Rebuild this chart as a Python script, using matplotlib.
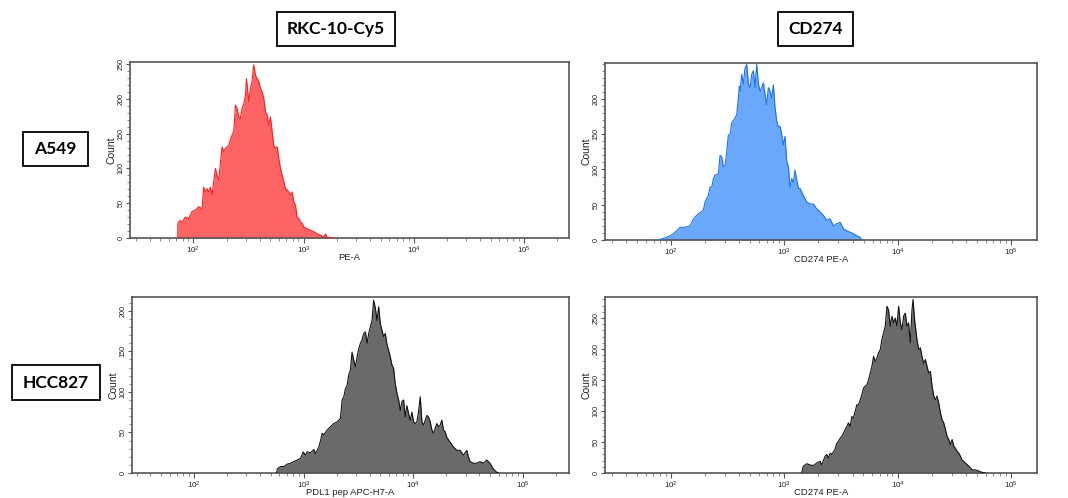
import numpy as np
import matplotlib
matplotlib.use("Agg")
import matplotlib.pyplot as plt
from matplotlib.patches import Rectangle
from matplotlib.ticker import LogLocator, MultipleLocator, NullFormatter, FixedLocator

plt.rcParams['font.family'] = ['Liberation Sans', 'DejaVu Sans']
plt.rcParams['mathtext.fontset'] = 'custom'
plt.rcParams['mathtext.rm'] = 'Liberation Sans'
plt.rcParams['mathtext.it'] = 'Liberation Sans:italic'
plt.rcParams['mathtext.bf'] = 'Liberation Sans:bold'

# ---------------- data (log10 intensity, count) ----------------
a549_rkc_log = [1.858, 1.860, 1.876, 1.897, 1.927, 1.958, 1.988, 2.018, 2.048, 2.079, 2.094, 2.109,
                2.124, 2.139, 2.155, 2.170, 2.200, 2.215, 2.230, 2.261, 2.276, 2.291, 2.321, 2.336,
                2.352, 2.367, 2.382, 2.397, 2.412, 2.427, 2.442, 2.458, 2.473, 2.482, 2.494, 2.503,
                2.518, 2.533, 2.548, 2.564, 2.579, 2.594, 2.609, 2.624, 2.639, 2.655, 2.670, 2.685,
                2.700, 2.715, 2.730, 2.745, 2.761, 2.776, 2.791, 2.806, 2.821, 2.836, 2.852, 2.867,
                2.882, 2.897, 2.912, 2.927, 2.942, 2.958, 2.973, 2.988, 3.003, 3.033, 3.064, 3.094,
                3.124, 3.155, 3.185, 3.200, 3.215, 3.245, 3.276]
a549_rkc_count = [0, 21, 25, 23, 30, 28, 38, 40, 45, 42, 73, 66,
                  71, 66, 73, 62, 100, 90, 83, 131, 124, 129, 133, 141,
                  148, 153, 191, 186, 174, 172, 186, 193, 205, 229, 210, 196,
                  215, 225, 249, 234, 229, 225, 215, 210, 201, 181, 177, 162,
                  174, 153, 133, 129, 131, 114, 100, 90, 81, 71, 69, 66,
                  62, 66, 52, 47, 30, 28, 23, 21, 16, 13, 11, 9,
                  6, 4, 1.5, 6, 0, 1, 0]

a549_cd274_log = [1.888, 1.918, 1.962, 1.991, 2.021, 2.050, 2.079, 2.124, 2.168, 2.197, 2.227, 2.256,
                  2.285, 2.300, 2.315, 2.329, 2.344, 2.359, 2.374, 2.388, 2.418, 2.432, 2.447, 2.462,
                  2.477, 2.491, 2.506, 2.521, 2.535, 2.565, 2.580, 2.594, 2.603, 2.609, 2.624, 2.638,
                  2.653, 2.668, 2.683, 2.697, 2.712, 2.727, 2.741, 2.756, 2.771, 2.786, 2.800, 2.815,
                  2.830, 2.844, 2.859, 2.874, 2.889, 2.903, 2.918, 2.933, 2.947, 2.962, 2.977, 2.991,
                  3.006, 3.021, 3.036, 3.050, 3.065, 3.080, 3.094, 3.109, 3.124, 3.139, 3.168, 3.197,
                  3.227, 3.256, 3.286, 3.315, 3.344, 3.374, 3.403, 3.433, 3.462, 3.492, 3.521, 3.550,
                  3.580, 3.609, 3.639, 3.668, 3.683]
a549_cd274_count = [0, 1.5, 4, 6, 9, 13, 18, 18, 20, 30, 35, 39,
                    42, 54, 59, 63, 75, 75, 87, 92, 94, 120, 118, 104,
                    106, 125, 149, 149, 166, 173, 178, 201, 218, 211, 235, 221,
                    244, 249, 221, 216, 235, 240, 216, 249, 221, 211, 216, 223,
                    206, 192, 216, 211, 201, 220, 187, 168, 161, 161, 149, 135,
                    147, 111, 104, 75, 87, 82, 99, 85, 73, 73, 63, 54,
                    51, 51, 44, 40, 35, 28, 30, 20, 23, 25, 16, 13,
                    11, 9, 6, 4, 0]

hcc_rkc_log = [2.755, 2.761, 2.791, 2.821, 2.852, 2.882, 2.912, 2.942, 2.973, 2.997, 3.018, 3.033,
               3.064, 3.094, 3.109, 3.139, 3.155, 3.170, 3.185, 3.215, 3.245, 3.276, 3.306, 3.336,
               3.352, 3.367, 3.382, 3.397, 3.412, 3.427, 3.442, 3.458, 3.473, 3.488, 3.503, 3.518,
               3.533, 3.548, 3.564, 3.579, 3.594, 3.609, 3.624, 3.639, 3.655, 3.670, 3.685, 3.700,
               3.715, 3.730, 3.745, 3.761, 3.776, 3.791, 3.806, 3.821, 3.836, 3.852, 3.867, 3.882,
               3.897, 3.912, 3.927, 3.942, 3.958, 3.973, 3.988, 4.003, 4.018, 4.033, 4.048, 4.064,
               4.079, 4.094, 4.109, 4.124, 4.139, 4.155, 4.170, 4.185, 4.200, 4.215, 4.230, 4.245,
               4.261, 4.276, 4.291, 4.306, 4.336, 4.367, 4.397, 4.427, 4.458, 4.488, 4.503, 4.518,
               4.548, 4.579, 4.609, 4.639, 4.670, 4.700, 4.730, 4.761, 4.776]
hcc_rkc_count = [0, 5, 8, 8, 11, 12, 14, 16, 18, 26, 22, 26,
                 25, 29, 24, 32, 40, 49, 47, 53, 57, 61, 63, 67,
                 90, 94, 104, 108, 121, 127, 149, 139, 131, 143, 153, 160,
                 164, 172, 174, 160, 172, 180, 188, 213, 203, 188, 205, 184,
                 176, 168, 172, 158, 151, 143, 133, 129, 110, 98, 90, 77,
                 88, 90, 69, 83, 73, 65, 75, 63, 61, 63, 75, 94,
                 63, 59, 65, 71, 69, 63, 53, 49, 55, 61, 57, 59,
                 65, 53, 51, 44, 38, 32, 28, 28, 22, 28, 20, 14,
                 12, 12, 14, 12, 16, 12, 5, 1, 0]

hcc_cd274_log = [3.153, 3.168, 3.198, 3.227, 3.257, 3.286, 3.316, 3.330, 3.360, 3.375, 3.389, 3.404,
                 3.419, 3.448, 3.463, 3.478, 3.493, 3.507, 3.522, 3.537, 3.552, 3.566, 3.581, 3.596,
                 3.611, 3.625, 3.640, 3.655, 3.670, 3.684, 3.699, 3.714, 3.729, 3.743, 3.758, 3.773,
                 3.788, 3.802, 3.817, 3.832, 3.847, 3.861, 3.876, 3.891, 3.906, 3.920, 3.935, 3.950,
                 3.965, 3.979, 3.994, 4.009, 4.024, 4.038, 4.053, 4.068, 4.083, 4.097, 4.112, 4.127,
                 4.136, 4.150, 4.171, 4.186, 4.201, 4.215, 4.230, 4.245, 4.260, 4.274, 4.289, 4.304,
                 4.319, 4.333, 4.348, 4.363, 4.378, 4.392, 4.407, 4.422, 4.437, 4.451, 4.466, 4.481,
                 4.496, 4.510, 4.525, 4.540, 4.555, 4.569, 4.599, 4.628, 4.658, 4.687, 4.717, 4.746,
                 4.776]
hcc_cd274_count = [0, 11, 15, 13, 12, 16, 19, 13, 27, 30, 24, 32,
                   30, 38, 48, 51, 56, 59, 64, 70, 75, 81, 75, 91,
                   89, 99, 110, 110, 118, 126, 137, 140, 142, 150, 161, 172,
                   188, 180, 185, 194, 199, 215, 226, 237, 269, 263, 237, 253,
                   242, 250, 237, 269, 242, 231, 253, 258, 237, 242, 210, 263,
                   280, 247, 215, 199, 202, 188, 177, 183, 172, 161, 164, 140,
                   124, 118, 124, 113, 97, 86, 81, 70, 59, 54, 46, 54,
                   43, 40, 35, 32, 27, 21, 16, 11, 5, 5, 3, 1,
                   0]

row_labels = ["A549", "HCC827"]
col_labels = ["RKC-10-Cy5", "CD274"]
x_labels = ["PE-A", "CD274 PE-A", "PDL1 pep APC-H7-A", "CD274 PE-A"]
y_label = "Count"

# ---------------- layout / styling ----------------
W, H = 1068, 498
fig = plt.figure(figsize=(W / 100, H / 100), dpi=100)
fig.patch.set_facecolor("white")


def px_axes(x0, y0, x1, y1):
    return fig.add_axes([x0 / W, 1 - y1 / H, (x1 - x0) / W, (y1 - y0) / H])


panels = [
    dict(box=(130, 62, 569, 238), xl=(1.425, 5.41), yl=253, yt=[0, 50, 100, 150, 200, 250],
         lx=a549_rkc_log, cy=a549_rkc_count, fc="#ff6464", ec="#ff1f1f", xlab=x_labels[0]),
    dict(box=(605, 63, 1037, 240), xl=(1.417, 5.23), yl=251, yt=[0, 50, 100, 150, 200],
         lx=a549_cd274_log, cy=a549_cd274_count, fc="#6aa8fb", ec="#1c70ec", xlab=x_labels[1]),
    dict(box=(132, 297, 569, 473), xl=(1.436, 5.42), yl=217, yt=[0, 50, 100, 150, 200],
         lx=hcc_rkc_log, cy=hcc_rkc_count, fc="#6a6a6a", ec="#111111", xlab=x_labels[2]),
    dict(box=(605, 297, 1037, 473), xl=(1.418, 5.23), yl=284, yt=[0, 50, 100, 150, 200, 250],
         lx=hcc_cd274_log, cy=hcc_cd274_count, fc="#6a6a6a", ec="#111111", xlab=x_labels[3]),
]

for p in panels:
    x0, y0, x1, y1 = p["box"]
    ax = px_axes(x0, y0, x1, y1)
    xv = 10 ** np.asarray(p["lx"])
    yv = np.asarray(p["cy"], dtype=float)
    ax.fill_between(xv, 0, yv, color=p["fc"], lw=0, zorder=2)
    ax.plot(xv, yv, color=p["ec"], lw=0.8, zorder=3)
    ax.set_xscale("log")
    ax.set_xlim(10 ** p["xl"][0], 10 ** p["xl"][1])
    ax.set_ylim(0, p["yl"])
    ax.xaxis.set_major_locator(FixedLocator([1e2, 1e3, 1e4, 1e5]))
    ax.xaxis.set_minor_locator(LogLocator(base=10, subs=np.arange(2, 10), numticks=20))
    ax.xaxis.set_minor_formatter(NullFormatter())
    ax.set_xticklabels([r"$10^{2}$", r"$10^{3}$", r"$10^{4}$", r"$10^{5}$"])
    ax.yaxis.set_major_locator(FixedLocator(p["yt"]))
    ax.yaxis.set_minor_locator(MultipleLocator(10))
    ax.tick_params(axis="x", which="major", direction="out", length=3.5, width=0.8,
                   colors="#555555", labelsize=5.8, labelcolor="#222222", pad=1.5)
    ax.tick_params(axis="y", which="major", direction="out", length=3.0, width=0.8,
                   colors="#555555", labelsize=5.2, labelcolor="#222222", pad=0.8)
    ax.tick_params(axis="both", which="minor", direction="out", length=2.0, width=0.6,
                   colors="#777777")
    ax.tick_params(axis="y", labelrotation=90)
    for lab in ax.get_yticklabels():
        lab.set_va("center")
    for s in ax.spines.values():
        s.set_color("#555555")
        s.set_linewidth(1.2)
    ax.set_xlabel(p["xlab"], fontsize=6.8, color="#222222", va="center")
    ax.xaxis.set_label_coords(0.5, -19.5 / (y1 - y0))
    ax.set_ylabel(y_label, fontsize=7.5, color="#222222", va="center")
    ax.yaxis.set_label_coords(-18.5 / (x1 - x0), 0.5)
    ax.set_facecolor("white")


def boxed_label(text, x0, y0, x1, y1):
    fig.add_artist(Rectangle((x0 / W, 1 - y1 / H), (x1 - x0) / W, (y1 - y0) / H,
                             transform=fig.transFigure, fill=False, ec="black", lw=1.3))
    fig.text((x0 + x1) / 2 / W, 1 - (y0 + y1) / 2 / H, text, ha="center", va="center",
             fontsize=12.5, fontweight="bold", family=["Lato", "DejaVu Sans"], color="black")


boxed_label(col_labels[0], 277, 12, 395, 46)
boxed_label(col_labels[1], 778, 12, 853, 46)
boxed_label(row_labels[0], 23, 132, 88, 166)
boxed_label(row_labels[1], 12, 365, 100, 400)

fig.savefig("out.png", dpi=100, facecolor="white")
